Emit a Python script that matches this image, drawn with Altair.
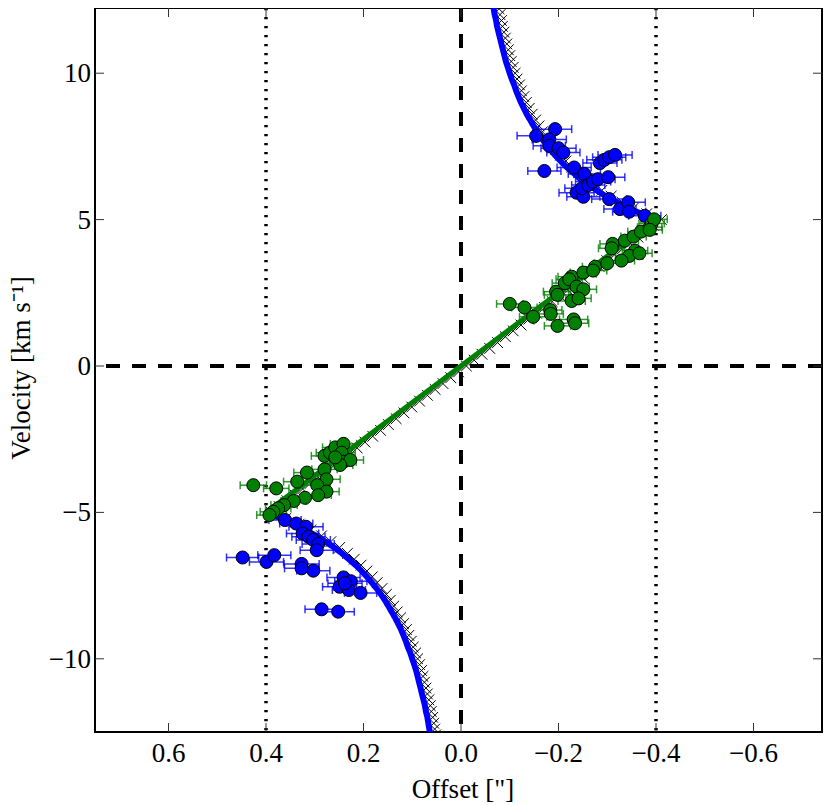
import altair as alt
import pandas as pd

# ---------------- axes ----------------
x_ticks = [0.6, 0.4, 0.2, 0.0, -0.2, -0.4, -0.6]
x_tick_labels = ["0.6", "0.4", "0.2", "0.0", "\u22120.2", "\u22120.4", "\u22120.6"]
y_ticks = [-10, -5, 0, 5, 10]
y_tick_labels = ["\u221210", "\u22125", "0", "5", "10"]
x_title = 'Offset ["]'
y_title = "Velocity [km s\u207b\u00b9]"
x_domain = [0.7508, -0.7405]
y_domain = [-12.5, 12.227]

# ---------------- reference lines ----------------
zero_offset = [0.0]
zero_velocity = [0.0]
ring_offsets = [0.4, -0.4]

# ---------------- blue data (Keplerian part) ----------------
blue_offset = [-0.154, -0.193, -0.181, -0.181, -0.200, -0.210, -0.171, -0.232, -0.253, -0.237,
               -0.251, -0.248, -0.261, -0.271, -0.281, -0.302, -0.285, -0.294, -0.304, -0.316,
               -0.304, -0.326, -0.343, -0.345, -0.377,
               0.361, 0.338, 0.318, 0.325, 0.313, 0.303, 0.293, 0.296, 0.448, 0.399,
               0.383, 0.327, 0.303, 0.327, 0.241, 0.226, 0.249, 0.230, 0.206, 0.286,
               0.252, 0.238, 0.597]
blue_velocity = [7.86, 8.09, 7.74, 7.52, 7.44, 7.29, 6.66, 6.78, 6.56, 5.92,
                 5.78, 6.07, 6.18, 6.30, 6.38, 6.45, 6.93, 7.04, 7.13, 7.21,
                 5.70, 5.36, 5.59, 5.27, 5.13,
                 -5.26, -5.38, -5.49, -5.72, -5.83, -5.94, -6.08, -6.29, -6.54, -6.69,
                 -6.46, -6.76, -6.99, -6.91, -7.22, -7.35, -7.54, -7.65, -7.75, -8.31,
                 -8.39, -7.42, 12.45]
blue_err = [0.039, 0.034, 0.035, 0.033, 0.036, 0.034, 0.034, 0.035, 0.033, 0.036,
            0.034, 0.035, 0.034, 0.036, 0.035, 0.034, 0.035, 0.036, 0.034, 0.035,
            0.036, 0.033, 0.035, 0.034, 0.033,
            0.033, 0.034, 0.035, 0.033, 0.034, 0.035, 0.033, 0.034, 0.033, 0.035,
            0.034, 0.036, 0.034, 0.035, 0.034, 0.033, 0.035, 0.034, 0.033, 0.034,
            0.033, 0.035, 0.040]

# ---------------- green data (rigid rotation part) ----------------
green_offset = [-0.100, -0.130, -0.148, -0.183, -0.184, -0.198, -0.231, -0.234, -0.195, -0.198,
                -0.213, -0.227, -0.222, -0.237, -0.251, -0.227, -0.241, -0.251, -0.275, -0.271,
                -0.300, -0.311, -0.309, -0.336, -0.354, -0.369, -0.357, -0.345, -0.329, -0.366,
                -0.387, -0.391, -0.396, -0.387,
                0.426, 0.379, 0.336, 0.316, 0.280, 0.280, 0.269, 0.258, 0.241, 0.245,
                0.241, 0.227, 0.248, 0.276, 0.295, 0.276, 0.293, 0.320, 0.343, 0.363,
                0.375, 0.385, 0.393, 0.258]
green_velocity = [2.12, 2.00, 1.68, 1.91, 1.78, 1.37, 1.59, 1.46, 2.54, 2.43,
                  2.83, 3.05, 2.96, 2.71, 2.62, 2.22, 2.31, 3.19, 3.39, 3.26,
                  3.51, 4.17, 4.02, 4.28, 4.42, 4.59, 3.94, 3.76, 3.60, 3.85,
                  4.74, 4.87, 5.01, 4.65,
                  -4.07, -4.18, -3.95, -3.64, -3.53, -3.07, -2.96, -2.78, -2.66, -2.96,
                  -3.27, -3.21, -3.38, -3.87, -4.07, -4.29, -4.41, -4.50, -4.61, -4.75,
                  -4.86, -4.98, -5.09, -3.12]
green_err = [0.027, 0.026, 0.028, 0.024, 0.026, 0.027, 0.029, 0.028, 0.026, 0.027,
             0.026, 0.028, 0.027, 0.026, 0.027, 0.028, 0.026, 0.027, 0.026, 0.028,
             0.027, 0.026, 0.027, 0.028, 0.026, 0.027, 0.026, 0.028, 0.027, 0.026,
             0.025, 0.026, 0.027, 0.026,
             0.027, 0.026, 0.028, 0.027, 0.026, 0.027, 0.028, 0.026, 0.027, 0.028,
             0.026, 0.027, 0.026, 0.028, 0.027, 0.026, 0.027, 0.028, 0.026, 0.027,
             0.026, 0.027, 0.026, 0.028]

# ---------------- model curves ----------------
rot_line_offset = [0.4, -0.4]
rot_line_velocity = [-5.0, 5.0]

rot_speed = [0.0, 0.2, 0.4, 0.6, 0.8, 1.0, 1.2, 1.4, 1.6, 1.8, 2.0, 2.2, 2.4, 2.6, 2.8,
             3.0, 3.2, 3.4, 3.6, 3.8, 4.0, 4.2, 4.4, 4.6, 4.8, 5.0]
rot_radius = [0.000, 0.016, 0.032, 0.048, 0.064, 0.080, 0.096, 0.112, 0.128, 0.144, 0.160,
              0.176, 0.192, 0.208, 0.224, 0.240, 0.256, 0.272, 0.288, 0.304, 0.320,
              0.336, 0.352, 0.368, 0.384, 0.400]
kep_speed = [5.0, 5.2, 5.4, 5.6, 5.8, 6.0, 6.2, 6.4, 6.6, 6.8, 7.0, 7.2, 7.4, 7.6, 7.8,
             8.0, 8.2, 8.4, 8.6, 8.8, 9.0, 9.2, 9.4, 9.6, 9.8, 10.0, 10.2, 10.4, 10.6, 10.8,
             11.0, 11.2, 11.4, 11.6, 11.8, 12.0, 12.2, 12.4, 12.6]
kep_radius = [0.400, 0.370, 0.343, 0.319, 0.297, 0.278, 0.260, 0.244, 0.230, 0.216,
              0.204, 0.193, 0.183, 0.173, 0.164, 0.156, 0.149, 0.142, 0.135, 0.129,
              0.123, 0.118, 0.113, 0.109, 0.104, 0.100, 0.096, 0.092, 0.089, 0.086,
              0.083, 0.080, 0.077, 0.074, 0.072, 0.069, 0.067, 0.065, 0.063]
model_shift = -0.011

# ---------------- tables ----------------
pts_df = pd.concat([
    pd.DataFrame({"x": blue_offset, "v": blue_velocity, "err": blue_err, "grp": "kepler"}),
    pd.DataFrame({"x": green_offset, "v": green_velocity, "err": green_err, "grp": "rigid"}),
], ignore_index=True)
pts_df["lo"] = pts_df["x"] - pts_df["err"]
pts_df["hi"] = pts_df["x"] + pts_df["err"]

kep_rows = []
for s, r in zip(kep_speed, kep_radius):
    kep_rows.append({"branch": "up", "x": -r, "v": s, "o": s})
    kep_rows.append({"branch": "down", "x": r, "v": -s, "o": s})
kep_df = pd.DataFrame(kep_rows)

rot_df = pd.DataFrame({"x": rot_line_offset, "v": rot_line_velocity})

mk_speed = rot_speed + kep_speed[1:]
mk_radius = rot_radius + kep_radius[1:]
mk_rows = []
for s, r in zip(mk_speed, mk_radius):
    mk_rows.append({"x": -r + model_shift, "v": s})
    if s > 0:
        mk_rows.append({"x": r + model_shift, "v": -s})
mk_df = pd.DataFrame(mk_rows)

# ---------------- scales / helpers ----------------
FONT = "Liberation Serif"
FS = 27
W, H = 727, 724
xs = alt.Scale(domain=x_domain, nice=False, zero=False)
ys = alt.Scale(domain=y_domain, nice=False, zero=False)
grp_scale = alt.Scale(domain=["kepler", "rigid"], range=["#0000ff", "#008000"])


def X(f):
    return alt.X(f, type="quantitative", scale=xs, axis=None)


def Y(f):
    return alt.Y(f, type="quantitative", scale=ys, axis=None)


# ---------------- layers ----------------
vdash = alt.Chart(pd.DataFrame({"x": zero_offset})).mark_rule(
    color="black", strokeWidth=4, strokeDash=[14, 12]).encode(x=X("x"))
hdash = alt.Chart(pd.DataFrame({"v": zero_velocity})).mark_rule(
    color="black", strokeWidth=4, strokeDash=[14, 12]).encode(y=Y("v"))
dotted = alt.Chart(pd.DataFrame({"x": ring_offsets})).mark_rule(
    color="black", strokeWidth=3.5, strokeDash=[2.2, 6.8]).encode(x=X("x"))

markers = alt.Chart(mk_df).mark_point(
    shape="M-1,-1L1,1M-1,1L1,-1", size=115, filled=False, stroke="black",
    strokeWidth=1, opacity=1, clip=True).encode(x=X("x"), y=Y("v"))

kep_line = alt.Chart(kep_df).mark_line(color="#0000ff", strokeWidth=6, clip=True).encode(
    x=X("x"), y=Y("v"), detail="branch:N", order="o:Q")
rot_line = alt.Chart(rot_df).mark_line(color="#008000", strokeWidth=5, clip=True).encode(
    x=X("x"), y=Y("v"))

err_bar = alt.Chart(pts_df).mark_rule(strokeWidth=1.5, opacity=0.8, clip=True).encode(
    x=X("lo"), x2="hi", y=Y("v"), color=alt.Color("grp:N", scale=grp_scale, legend=None))
cap_lo = alt.Chart(pts_df).mark_tick(orient="vertical", size=8, thickness=1.5,
                                     opacity=0.8, clip=True).encode(
    x=X("lo"), y=Y("v"), color=alt.Color("grp:N", scale=grp_scale, legend=None))
cap_hi = alt.Chart(pts_df).mark_tick(orient="vertical", size=8, thickness=1.5,
                                     opacity=0.8, clip=True).encode(
    x=X("hi"), y=Y("v"), color=alt.Color("grp:N", scale=grp_scale, legend=None))

points = alt.Chart(pts_df).mark_circle(
    size=170, stroke="black", strokeWidth=1, opacity=1, clip=True).encode(
    x=X("x"), y=Y("v"), fill=alt.Fill("grp:N", scale=grp_scale, legend=None))

# inward ticks on all four sides
xt = pd.DataFrame({"t": x_ticks, "lab": x_tick_labels})
yt = pd.DataFrame({"t": y_ticks, "lab": y_tick_labels})
TC = "#333333"
tick_top = alt.Chart(xt).mark_rule(color=TC, strokeWidth=1).encode(
    x=X("t"), y=alt.value(0), y2=alt.value(9))
tick_bot = alt.Chart(xt).mark_rule(color=TC, strokeWidth=1).encode(
    x=X("t"), y=alt.value(H - 9), y2=alt.value(H))
tick_left = alt.Chart(yt).mark_rule(color=TC, strokeWidth=1).encode(
    y=Y("t"), x=alt.value(0), x2=alt.value(9))
tick_right = alt.Chart(yt).mark_rule(color=TC, strokeWidth=1).encode(
    y=Y("t"), x=alt.value(W - 9), x2=alt.value(W))

# tick labels and axis titles as text
x_labels = alt.Chart(xt).mark_text(
    font=FONT, fontSize=FS, color="black", align="center", baseline="alphabetic").encode(
    x=X("t"), y=alt.value(H + 29.5), text="lab:N")
y_labels = alt.Chart(yt).mark_text(
    font=FONT, fontSize=FS, color="black", align="right", baseline="alphabetic", dy=9).encode(
    y=Y("t"), x=alt.value(-4), text="lab:N")
x_title_layer = alt.Chart(pd.DataFrame({"lab": [x_title]})).mark_text(
    font=FONT, fontSize=FS, color="black", align="center", baseline="alphabetic").encode(
    x=alt.value(368), y=alt.value(H + 66), text="lab:N")
y_title_layer = alt.Chart(pd.DataFrame({"lab": [y_title]})).mark_text(
    font=FONT, fontSize=FS, color="black", align="center", baseline="alphabetic",
    angle=270).encode(
    x=alt.value(-65), y=alt.value(360), text="lab:N")

chart = alt.layer(
    vdash, hdash, dotted, markers, kep_line, rot_line,
    err_bar, cap_lo, cap_hi, points,
    tick_top, tick_bot, tick_left, tick_right,
    x_labels, y_labels, x_title_layer, y_title_layer,
).properties(
    width=W, height=H,
    autosize=alt.AutoSizeParams(type="none"),
    padding={"left": 87, "top": 0, "right": 1, "bottom": 73},
).configure_view(
    stroke="black", strokeWidth=2
)

chart.save("out.html", embed_options={"renderer": "svg", "actions": False})
